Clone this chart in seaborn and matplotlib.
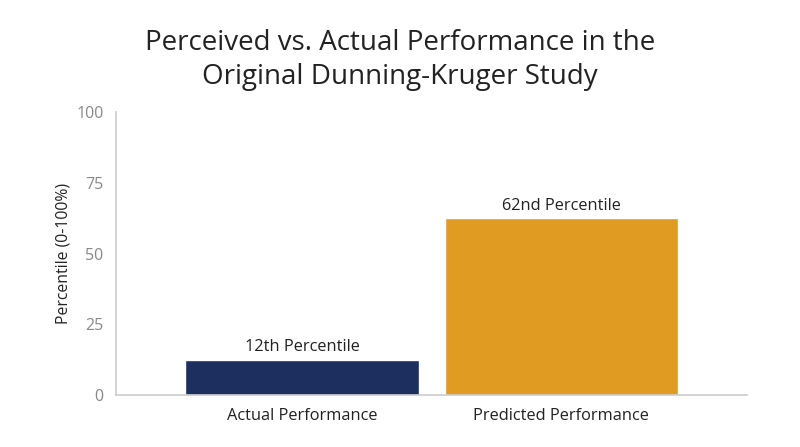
import matplotlib
matplotlib.use('Agg')
import matplotlib.pyplot as plt
import seaborn as sns
import pandas as pd

categories = ['Actual Performance', 'Predicted Performance']
percentiles = [12.5, 62.5]
bar_labels = ['12th Percentile', '62nd Percentile']
bar_colors = ['#1c2f5e', '#e09b22']
y_ticks = [0, 25, 50, 75, 100]

df = pd.DataFrame({'category': categories, 'percentile': percentiles})

sns.set_style('white')
plt.rcParams['font.family'] = ['Open Sans', 'DejaVu Sans']

fig = plt.figure(figsize=(8, 4.47), dpi=100)
ax = fig.add_axes([0.145, 0.1163, 0.789, 0.633])

sns.barplot(data=df, x='category', y='percentile', hue='category',
            palette=bar_colors, width=0.9, saturation=1, legend=False, ax=ax)

# value labels above the bars
for i, (v, lab) in enumerate(zip(percentiles, bar_labels)):
    ax.text(i, v + 1.5, lab, ha='center', va='bottom', fontsize=11.8, color='#222222')

ax.set_xlim(-0.718, 1.718)
ax.set_ylim(0, 100)
ax.set_yticks(y_ticks)
ax.tick_params(axis='y', colors='#888888', labelsize=11.5, length=0, pad=9)
ax.tick_params(axis='x', colors='#222222', labelsize=11.8, length=0, pad=9)
ax.set_xlabel('')
ax.set_ylabel('Percentile (0-100%)', fontsize=11.3, color='#222222', labelpad=3)

for s in ['top', 'right']:
    ax.spines[s].set_visible(False)
for s in ['left', 'bottom']:
    ax.spines[s].set_color('#cccccc')
    ax.spines[s].set_linewidth(1.2)

fig.suptitle('Perceived vs. Actual Performance in the\nOriginal Dunning-Kruger Study',
             x=0.5, y=0.935, fontsize=20, color='#222222', linespacing=1.3)

fig.savefig('out.png', dpi=100)
